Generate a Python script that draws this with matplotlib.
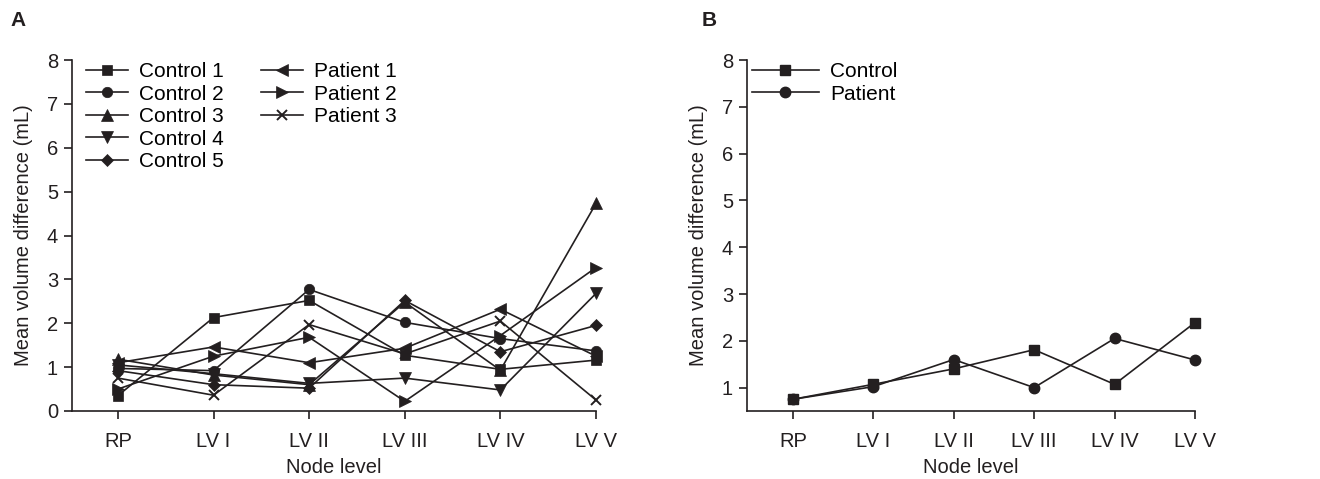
import matplotlib
matplotlib.use("Agg")
import matplotlib.pyplot as plt

plt.rcParams['font.family'] = ['Liberation Sans', 'DejaVu Sans']

levels = ["RP", "LV I", "LV II", "LV III", "LV IV", "LV V"]

control_1 = [0.35, 2.13, 2.52, 1.27, 0.95, 1.16]
control_2 = [0.97, 0.92, 2.77, 2.02, 1.65, 1.37]
control_3 = [1.18, 0.82, 0.60, 2.48, 0.93, 4.73]
control_4 = [1.05, 0.85, 0.63, 0.75, 0.48, 2.68]
control_5 = [0.92, 0.60, 0.52, 2.52, 1.35, 1.95]
patient_1 = [1.10, 1.46, 1.10, 1.43, 2.32, 1.25]
patient_2 = [0.50, 1.25, 1.68, 0.22, 1.72, 3.27]
patient_3 = [0.75, 0.36, 1.97, 1.30, 2.05, 0.25]

mean_control = [0.75, 1.07, 1.40, 1.81, 1.07, 2.39]
mean_patient = [0.75, 1.02, 1.60, 1.00, 2.05, 1.59]

series_a = [
    ("Control 1", control_1, "s", 7),
    ("Control 2", control_2, "o", 7.5),
    ("Control 3", control_3, "^", 8),
    ("Control 4", control_4, "v", 8),
    ("Control 5", control_5, "D", 6),
    ("Patient 1", patient_1, "<", 8),
    ("Patient 2", patient_2, ">", 8),
    ("Patient 3", patient_3, "x", 7.5),
]
series_b = [
    ("Control", mean_control, "s", 7),
    ("Patient", mean_patient, "o", 7.5),
]

col = "#231f20"
FS = 14.5
LFS = 15
fig = plt.figure(figsize=(13.2, 4.79), dpi=100)
axA = fig.add_axes([72/1320, 1-411/479, (596-72)/1320, (411-60)/479])
axB = fig.add_axes([747/1320, 1-411/479, (1195-747)/1320, (411-60)/479])

x = list(range(len(levels)))


def style(ax, ylim, yticks, xlim):
    ax.set_xlim(*xlim)
    ax.set_ylim(*ylim)
    ax.set_yticks(yticks)
    ax.set_xticks(x)
    ax.set_xticklabels(levels)
    for s in ("top", "right"):
        ax.spines[s].set_visible(False)
    for s in ("left", "bottom"):
        ax.spines[s].set_linewidth(1.2)
        ax.spines[s].set_color(col)
    ax.spines["bottom"].set_bounds(xlim[0], 5)
    ax.tick_params(direction="out", length=6, width=1.2, colors=col,
                   labelsize=FS, pad=4)
    ax.tick_params(axis="x", pad=9)
    ax.set_xlabel("Node level", fontsize=FS, color=col, labelpad=5)
    ax.set_ylabel("Mean volume difference (mL)", fontsize=FS, color=col, labelpad=10)


leg_kw = dict(frameon=False, fontsize=LFS, handletextpad=0.55,
              labelspacing=0.17, borderpad=0, borderaxespad=0,
              loc="upper left", bbox_transform=fig.transFigure)

handles_a = []
for name, vals, m, ms in series_a:
    h, = axA.plot(x, vals, color=col, lw=1.2, marker=m, ms=ms,
                  mew=1.4 if m == "x" else 0.5, mfc=col, mec=col, label=name,
                  clip_on=False)
    handles_a.append(h)
style(axA, (0, 8), range(0, 9), (-0.48, 5))

leg1 = axA.legend(handles=handles_a[:5], bbox_to_anchor=(86/1320, 1-62/479),
                  handlelength=2.0, **leg_kw)
axA.add_artist(leg1)
axA.legend(handles=handles_a[5:], bbox_to_anchor=(261/1320, 1-62/479),
           handlelength=2.0, **leg_kw)

handles_b = []
for name, vals, m, ms in series_b:
    h, = axB.plot(x, vals, color=col, lw=1.2, marker=m, ms=ms, mfc=col,
                  mec=col, label=name, clip_on=False)
    handles_b.append(h)
style(axB, (0.5, 8), range(1, 9), (-0.57, 5))
axB.legend(handles=handles_b, bbox_to_anchor=(752/1320, 1-62/479),
           handlelength=3.2, **leg_kw)

fig.text(10/1320, 1-21/479, "A", fontsize=15, fontweight="bold", color=col,
         va="center", ha="left")
fig.text(702/1320, 1-21/479, "B", fontsize=15, fontweight="bold", color=col,
         va="center", ha="left")

fig.savefig("out.png", dpi=100)
